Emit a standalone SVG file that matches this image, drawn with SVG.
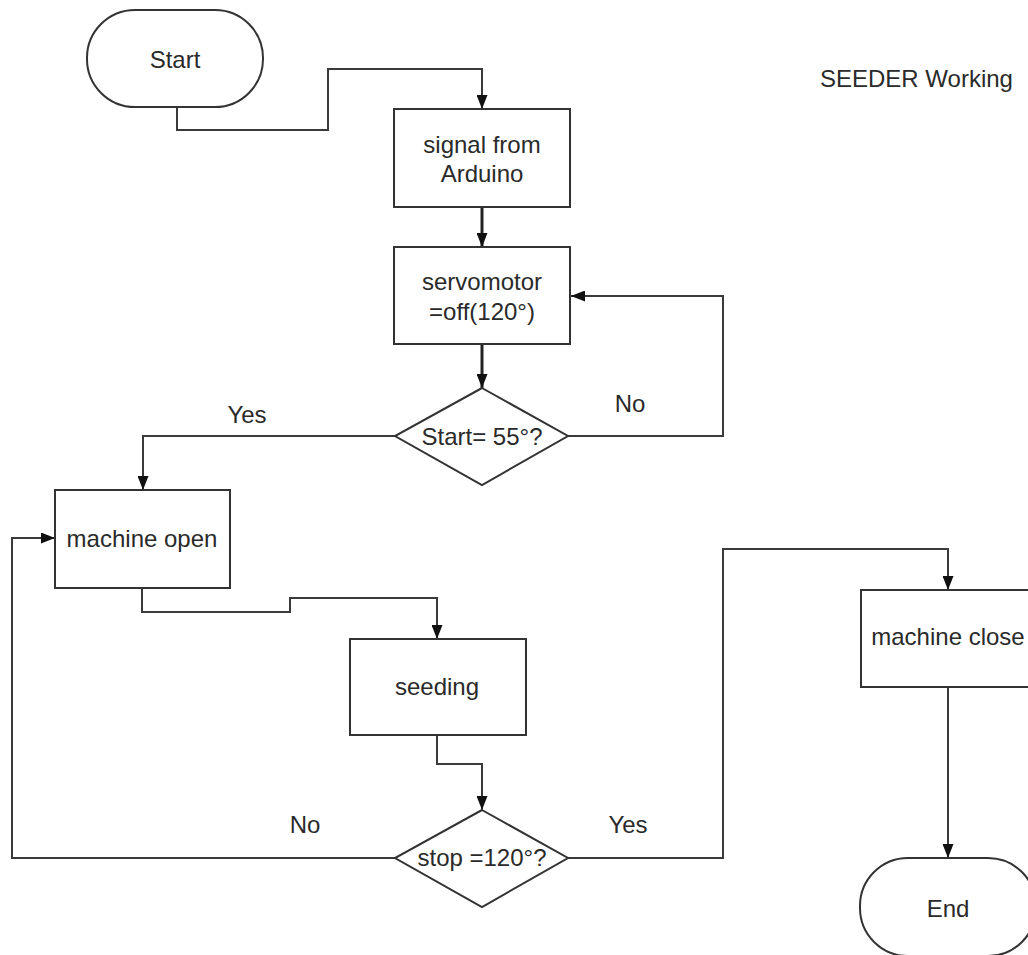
<svg xmlns="http://www.w3.org/2000/svg" width="1028" height="955" viewBox="0 0 1028 955">
  <defs>
    <style>
      .shape { fill: #ffffff; stroke: #333333; stroke-width: 2; }
      .wire { fill: none; stroke: #3a3a3a; stroke-width: 2; }
      .wire.bold { stroke-width: 3; stroke: #222222; }
      .label { font-family: "Liberation Sans", Arial, sans-serif; font-size: 24px; fill: #2a2a2a; text-anchor: middle; }
      .title { text-anchor: start; }
    </style>
    <marker id="arrow" viewBox="0 0 14 11" refX="14" refY="5.5" markerWidth="14" markerHeight="11" markerUnits="userSpaceOnUse" orient="auto">
      <path d="M0,0 L14,5.5 L0,11 Z" fill="#111111"/>
    </marker>
  </defs>

  <rect width="1028" height="955" fill="#ffffff"/>

  <!-- connectors -->
  <g id="connectors">
    <polyline class="wire" points="177,107 177,130 328,130 328,69 482,69 482,109" marker-end="url(#arrow)"/>
    <polyline class="wire bold" points="482,207 482,247" marker-end="url(#arrow)"/>
    <polyline class="wire bold" points="482,344 482,388" marker-end="url(#arrow)"/>
    <polyline class="wire" points="568,436 723,436 723,296 571,296" marker-end="url(#arrow)"/>
    <polyline class="wire" points="395,436 143,436 143,490" marker-end="url(#arrow)"/>
    <polyline class="wire" points="142,588 142,612 290,612 290,598 437,598 437,639" marker-end="url(#arrow)"/>
    <polyline class="wire" points="437,735 437,764 482,764 482,810" marker-end="url(#arrow)"/>
    <polyline class="wire" points="395,858 12,858 12,538 55,538" marker-end="url(#arrow)"/>
    <polyline class="wire" points="568,858 723,858 723,549 948,549 948,590" marker-end="url(#arrow)"/>
    <polyline class="wire" points="948,687 948,858" marker-end="url(#arrow)"/>
    <text class="label" x="247" y="423">Yes</text>
    <text class="label" x="630" y="412">No</text>
    <text class="label" x="305" y="833">No</text>
    <text class="label" x="628" y="833">Yes</text>
  </g>

  <g id="start">
    <rect class="shape" x="87" y="10" width="176" height="97" rx="48" ry="48"/>
    <text class="label" x="175" y="68">Start</text>
  </g>

  <g id="signal">
    <rect class="shape" x="394" y="109" width="176" height="98"/>
    <text class="label" x="482" y="153">signal from</text>
    <text class="label" x="482" y="182">Arduino</text>
  </g>

  <g id="servomotor">
    <rect class="shape" x="394" y="247" width="176" height="97"/>
    <text class="label" x="482" y="290">servomotor</text>
    <text class="label" x="482" y="320">=off(120°)</text>
  </g>

  <g id="check-start">
    <polygon class="shape" points="482,388 568,436 482,485 395,436"/>
    <text class="label" x="482" y="445">Start= 55°?</text>
  </g>

  <g id="machine-open">
    <rect class="shape" x="55" y="490" width="175" height="98"/>
    <text class="label" x="142" y="547">machine open</text>
  </g>

  <g id="seeding">
    <rect class="shape" x="350" y="639" width="176" height="96"/>
    <text class="label" x="437" y="695">seeding</text>
  </g>

  <g id="check-stop">
    <polygon class="shape" points="482,810 568,858 482,907 395,858"/>
    <text class="label" x="482" y="866">stop =120°?</text>
  </g>

  <g id="machine-close">
    <rect class="shape" x="861" y="590" width="175" height="97"/>
    <text class="label" x="948" y="645">machine close</text>
  </g>

  <g id="end">
    <rect class="shape" x="860" y="858" width="176" height="98" rx="48" ry="48"/>
    <text class="label" x="948" y="917">End</text>
  </g>

  <g id="title">
    <text class="label title" x="820" y="87">SEEDER Working</text>
  </g>
</svg>
